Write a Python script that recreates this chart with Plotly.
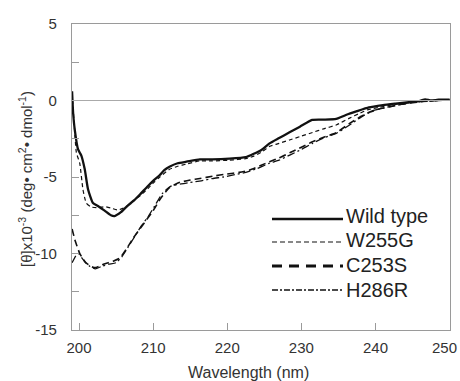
import plotly.graph_objects as go

# ---- data ----
wt_wl = [199.06, 199.2, 199.42, 199.87, 200.31, 200.77, 201.21, 201.88, 202.55, 203.45, 204.3, 204.8,
         205.65, 206.5, 207.49, 208.3, 209.27, 210.1, 210.9, 211.5, 212.2, 213.3, 214.5, 216.3, 218.0,
         220.3, 222.5, 223.5, 224.7, 225.7, 227.0, 228.4, 229.8, 231.45, 233.0, 234.7, 236.0, 237.5,
         239.1, 241.0, 242.7, 244.5, 246.0, 246.7, 247.5, 248.5, 250.0]
wt_val = [0.6, -0.8, -1.9, -3.2, -3.6, -4.5, -5.8, -6.7, -6.9, -7.2, -7.5, -7.55,
          -7.3, -6.9, -6.5, -6.1, -5.6, -5.2, -4.87, -4.55, -4.33, -4.1, -4.0, -3.85, -3.85,
          -3.8, -3.7, -3.5, -3.2, -2.8, -2.45, -2.08, -1.71, -1.27, -1.25, -1.2, -0.95, -0.7,
          -0.45, -0.3, -0.2, -0.1, -0.02, 0.08, 0.0, 0.05, 0.05]

w255g_wl = [199.06, 199.3, 199.64, 200.09, 200.54, 200.98, 201.65, 202.55, 203.45, 204.34, 205.24,
            206.36, 207.49, 208.3, 209.3, 210.1, 210.9, 212.2, 213.3, 214.5, 216.3, 218.0, 220.3,
            222.5, 223.5, 224.7, 225.7, 227.0, 228.4, 229.8, 231.5, 233.0, 234.7, 236.5, 237.8,
            239.0, 240.5, 242.0, 243.5, 245.0, 246.5, 248.0, 250.0]
w255g_val = [0.5, -1.2, -3.4, -4.1, -5.85, -6.7, -6.96, -7.0, -6.94, -7.03, -7.16,
             -6.94, -6.5, -6.2, -5.75, -5.35, -5.0, -4.5, -4.3, -4.15, -3.95, -3.95, -3.9,
             -3.8, -3.65, -3.35, -3.0, -2.8, -2.58, -2.36, -2.09, -1.85, -1.6, -1.15, -0.85,
             -0.6, -0.45, -0.3, -0.2, -0.1, -0.05, 0.0, 0.03]

c253s_wl = [199.06, 199.5, 200.1, 200.9, 201.9, 202.4, 203.3, 204.6, 205.5, 206.4, 207.3, 208.2,
            209.1, 210.0, 211.0, 212.2, 213.6, 215.0, 216.3, 218.0, 220.0, 221.6, 223.0, 224.5,
            225.7, 227.0, 228.5, 230.0, 231.5, 233.0, 234.7, 236.5, 238.0, 239.0, 240.5, 242.0,
            243.5, 245.0, 246.5, 248.0, 250.0]
c253s_val = [-8.4, -9.2, -10.0, -10.6, -10.9, -10.9, -10.7, -10.5, -10.3, -9.7, -9.0, -8.4,
             -7.8, -7.2, -6.4, -5.7, -5.35, -5.2, -5.1, -4.95, -4.8, -4.7, -4.55, -4.25,
             -4.0, -3.75, -3.4, -3.05, -2.7, -2.4, -2.1, -1.5, -1.05, -0.8, -0.55, -0.4,
             -0.25, -0.15, -0.05, 0.0, 0.05]

h286r_wl = [199.06, 199.5, 199.9, 200.4, 200.9, 201.5, 202.2, 203.0, 204.0, 205.0, 205.8, 206.6,
            207.5, 208.4, 209.3, 210.2, 211.2, 212.4, 213.8, 215.0, 216.5, 218.0, 219.5, 221.0,
            222.5, 224.0, 225.7, 227.0, 228.5, 230.0, 231.5, 233.0, 234.7, 236.5, 238.0, 239.5,
            241.0, 242.5, 244.0, 245.5, 247.0, 248.5, 250.0]
h286r_val = [-10.6, -10.2, -10.0, -10.3, -10.6, -10.85, -11.0, -10.85, -10.7, -10.6, -10.2, -9.6,
             -8.9, -8.2, -7.6, -6.9, -6.1, -5.6, -5.45, -5.35, -5.25, -5.1, -5.0, -4.85,
             -4.7, -4.45, -4.1, -3.9, -3.55, -3.2, -2.8, -2.45, -2.15, -1.6, -1.1, -0.7,
             -0.5, -0.35, -0.2, -0.1, -0.05, 0.0, 0.02]

series_names = ["Wild type", "W255G", "C253S", "H286R"]
x_tick_vals = [200, 210, 220, 230, 240, 250]
x_tick_text = ["200", "210", "220", "230", "240", "250"]
y_tick_vals = [-15, -12.5, -10, -7.5, -5, -2.5, 0, 2.5, 5]
y_tick_text = ["-15", "", "-10", "", "-5", "", "0", "", "5"]

FONT = "Liberation Sans, Arial, sans-serif"
GRAY = "#9a9a9a"
TICKFONT = dict(family=FONT, size=15, color="#333333")

styles = [
    dict(width=2.3, dash="solid"),
    dict(width=1.2, dash="4px,3px"),
    dict(width=1.6, dash="7px,4px"),
    dict(width=1.3, dash="8px,3px,2px,3px"),
]
legend_styles = [
    dict(width=2.6, dash="solid"),
    dict(width=1.2, dash="5px,3px"),
    dict(width=3.0, dash="10px,7px"),
    dict(width=1.4, dash="6px,2px,2px,2px"),
]

fig = go.Figure()
for name, xs, ys, st in zip(series_names,
                            [wt_wl, w255g_wl, c253s_wl, h286r_wl],
                            [wt_val, w255g_val, c253s_val, h286r_val],
                            styles):
    fig.add_trace(go.Scatter(x=xs, y=ys, mode="lines", name=name,
                             line=dict(color="#111111", width=st["width"], dash=st["dash"],
                                       shape="spline", smoothing=0.5),
                             showlegend=False))

# zero line
fig.add_hline(y=0, line=dict(color="#aaaaaa", width=1))

# custom legend (line samples + labels)
L, T, W, H = 72, 24, 378, 306
def px(xp):
    return (xp - L) / W
def py(yp):
    return (T + H - yp) / H

leg_line_y = [219, 242, 266, 290]
leg_text_y = [216, 240, 265, 290]
for name, ly, ty, st in zip(series_names, leg_line_y, leg_text_y, legend_styles):
    fig.add_shape(type="line", xref="paper", yref="paper",
                  x0=px(272), x1=px(343), y0=py(ly), y1=py(ly),
                  line=dict(color="#111111", width=st["width"], dash=st["dash"]))
    fig.add_annotation(xref="paper", yref="paper", x=px(344), y=py(ty),
                       text=name, showarrow=False, xanchor="left", yanchor="middle",
                       font=dict(family=FONT, size=20, color="#222222"))

# last x tick label sits at the right page edge: draw it right-anchored so it stays whole
fig.add_annotation(xref="paper", yref="paper", x=px(459), y=py(347),
                   text=x_tick_text[-1], showarrow=False, xanchor="right", yanchor="middle",
                   font=TICKFONT)

# axis titles as annotations
fig.add_annotation(xref="paper", yref="paper", x=px(248), y=py(372),
                   text="Wavelength (nm)", showarrow=False, xanchor="center", yanchor="middle",
                   font=dict(family=FONT, size=16, color="#333333"))
fig.add_annotation(xref="paper", yref="paper", x=px(25), y=py(179),
                   text="[θ]x10<sup>-3</sup> (deg• cm<sup>2</sup>• dmol<sup>-1</sup>)",
                   textangle=-90, showarrow=False, xanchor="center", yanchor="middle",
                   font=dict(family=FONT, size=15, color="#333333"))

fig.update_xaxes(range=[199.05, 250.05], tickvals=x_tick_vals,
                 ticktext=x_tick_text[:-1] + [""], ticks="inside", ticklen=7,
                 tickcolor=GRAY, tickwidth=1, showline=True, linecolor=GRAY, linewidth=1.3,
                 mirror=True, showgrid=False, zeroline=False, ticklabelstandoff=4,
                 automargin=False, tickfont=TICKFONT)
fig.update_yaxes(range=[-15, 5], tickvals=y_tick_vals, ticktext=y_tick_text, ticks="inside",
                 ticklen=7, tickcolor=GRAY, tickwidth=1, showline=True, linecolor=GRAY,
                 linewidth=1.3, mirror=True, showgrid=False, zeroline=False, ticklabelstandoff=11,
                 automargin=False, tickfont=TICKFONT)

fig.update_layout(width=460, height=381, margin=dict(l=L, r=460 - L - W, t=T, b=381 - T - H),
                  paper_bgcolor="white", plot_bgcolor="white", showlegend=False)

fig.write_html("out.html", config={"displayModeBar": False},
               post_script="document.body.style.margin='0';document.body.style.overflow='hidden';")
